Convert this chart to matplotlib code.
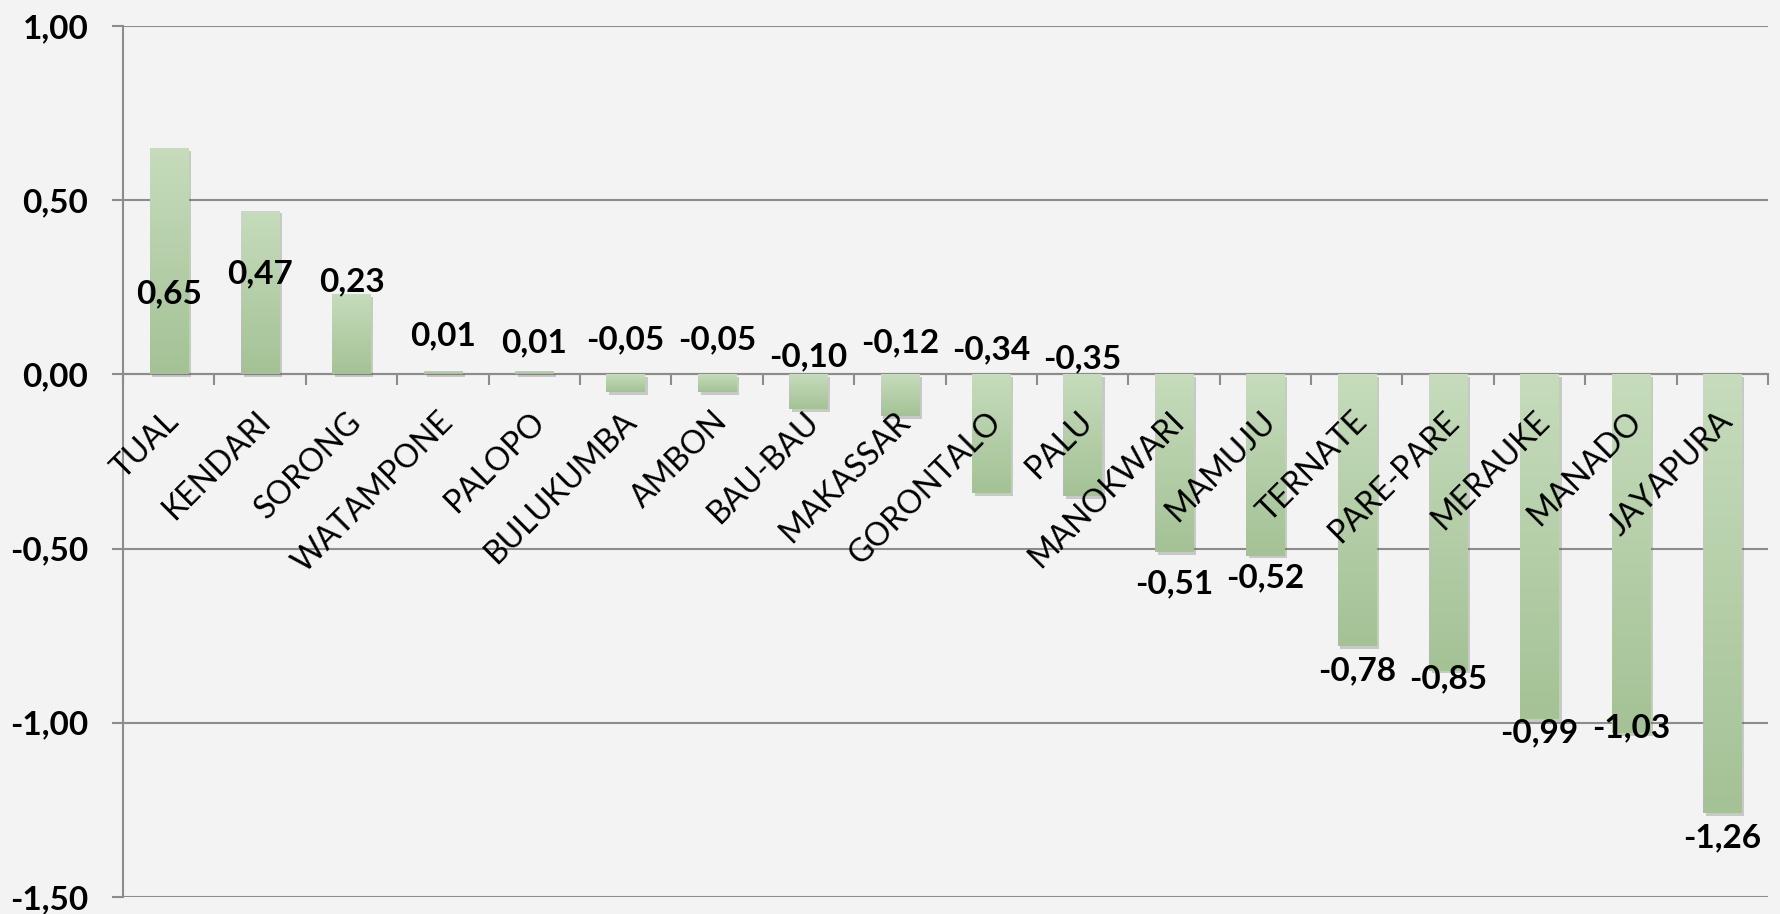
import matplotlib
matplotlib.use("Agg")
import matplotlib.pyplot as plt
import matplotlib.patheffects as pe
import matplotlib.transforms as mtransforms
from matplotlib.colors import LinearSegmentedColormap
from matplotlib.ticker import FuncFormatter
import numpy as np

# data
cities = ["TUAL", "KENDARI", "SORONG", "WATAMPONE", "PALOPO", "BULUKUMBA", "AMBON",
          "BAU-BAU", "MAKASSAR", "GORONTALO", "PALU", "MANOKWARI", "MAMUJU", "TERNATE",
          "PARE-PARE", "MERAUKE", "MANADO", "JAYAPURA"]
values = [0.65, 0.47, 0.23, 0.01, 0.01, -0.05, -0.05, -0.10, -0.12, -0.34, -0.35,
          -0.51, -0.52, -0.78, -0.85, -0.99, -1.03, -1.26]
# where the value labels sit (y, data units), placed by hand in the original
label_y = [0.23, 0.29, 0.265, 0.11, 0.09, 0.10, 0.10, 0.05, 0.09, 0.07, 0.045,
           -0.60, -0.585, -0.85, -0.875, -1.03, -1.015, -1.33]
y_ticks = [-1.5, -1.0, -0.5, 0.0, 0.5, 1.0]

plt.rcParams['font.family'] = ['Lato', 'DejaVu Sans']

def fmt(v):
    return f"{v:.2f}".replace(".", ",")

bg = "#f3f3f3"
grid_c = "#8c8c8c"

fig = plt.figure(figsize=(17.81, 9.14), dpi=100)
fig.patch.set_facecolor(bg)
ax = fig.add_axes([0.0691, 0.0186, 0.9236, 0.953])
ax.set_facecolor(bg)

# spine position first: it resets the ticks
ax.spines["bottom"].set_position(("data", 0))
for s in ["bottom", "left"]:
    ax.spines[s].set_color(grid_c)
    ax.spines[s].set_linewidth(1.5)
ax.spines["top"].set_visible(False)
ax.spines["right"].set_visible(False)

x = np.arange(len(cities))
bars = ax.bar(x, values, width=0.42, color="#b6cfab", zorder=3)

# vertical gradient on each bar, light at top, darker at bottom
grad = np.linspace(0, 1, 200).reshape(-1, 1)
cmap = LinearSegmentedColormap.from_list("greens", ["#c6dcbc", "#a4c296"])
for b in bars:
    b.set_path_effects([pe.withSimplePatchShadow(offset=(2, -2), shadow_rgbFace="#666666", alpha=0.3),
                        pe.Normal()])
    x0, y0, w, h = b.get_x(), b.get_y(), b.get_width(), b.get_height()
    lo, hi = min(y0, y0 + h), max(y0, y0 + h)
    im = ax.imshow(grad, cmap=cmap, extent=[x0, x0 + w, lo, hi], origin="upper",
                   aspect="auto", zorder=4, interpolation="bilinear")
    im.set_clip_path(b)

for xi, v, ly in zip(x, values, label_y):
    ax.text(xi, ly, fmt(v), ha="center", va="center", fontsize=24,
            fontweight="bold", color="black", zorder=6)

ax.set_xlim(-0.5, len(cities) - 0.5)
ax.set_ylim(-1.5, 1.0)

ax.set_yticks(y_ticks)
ax.yaxis.set_major_formatter(FuncFormatter(lambda v, p: fmt(v)))
ax.grid(axis="y", color=grid_c, lw=1.5, zorder=1)
ax.tick_params(axis="y", length=8, width=1.5, color=grid_c, pad=17, labelsize=24)
for lab in ax.get_yticklabels():
    lab.set_fontweight("bold")

ax.set_xticks(np.arange(-0.5, len(cities), 1), minor=True)
ax.tick_params(axis="x", which="major", length=0, pad=23, labelsize=23)
ax.tick_params(axis="x", which="minor", length=8, width=1.5, color=grid_c)
ax.set_xticks(x)
ax.set_xticklabels(cities)
shift = mtransforms.ScaledTranslation(-5 / 100, 0, fig.dpi_scale_trans)
for lab in ax.get_xticklabels():
    lab.set_rotation(45)
    lab.set_rotation_mode("anchor")
    lab.set_ha("right")
    lab.set_va("top")
    lab.set_transform(lab.get_transform() + shift)
ax.xaxis.set_zorder(5)

fig.savefig("out.png", dpi=100, facecolor=bg)
